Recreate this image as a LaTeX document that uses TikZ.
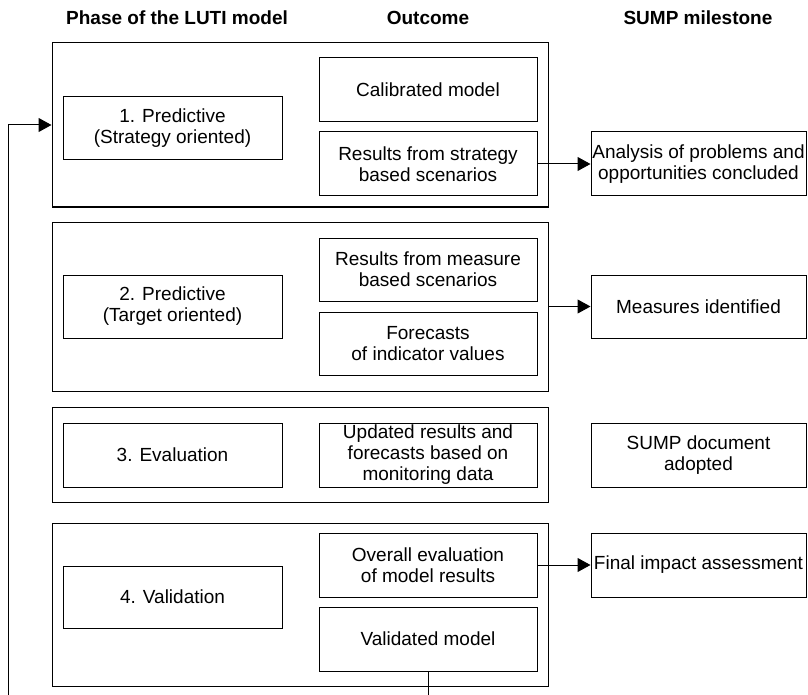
\documentclass[tikz,border=0pt]{standalone}
\usepackage{fontspec}
\setmainfont{Liberation Sans}
\usetikzlibrary{arrows.meta}
\tikzset{
  txt/.style={font=\fontsize{19}{21}\selectfont, align=center},
  hdr/.style={font=\bfseries\fontsize{19}{21}\selectfont},
  outerbox/.style={draw, line width=1pt, rectangle, inner sep=0pt, minimum width=496pt},
  bx/.style={draw, line width=1pt, rectangle, inner sep=0pt, txt},
  phasebox/.style={bx, minimum width=219pt},
  outbox/.style={bx, minimum width=218pt, minimum height=64pt},
  milebox/.style={bx, minimum width=215pt, minimum height=64pt},
  conn/.style={line width=1pt, -{Triangle[length=13pt,width=14pt]}},
}
\begin{document}
\begin{tikzpicture}[x=1pt,y=-1pt]
\clip (0,0) rectangle (808,695);
% headers
\node[hdr] (h1) at (177,18) {Phase of the LUTI model};
\node[hdr] (h2) at (428,18) {Outcome};
\node[hdr] (h3) at (698,18) {SUMP milestone};
% group 1
\node[outerbox, minimum height=164pt] (g1) at (300,125) {};
\node[phasebox, minimum height=63pt] (p1) at (172.5,128.5) {1. Predictive\\(Strategy oriented)};
\node[outbox] (o1a) at (428,90) {Calibrated model};
\node[outbox] (o1b) at (428,164) {Results from strategy\\based scenarios};
\node[milebox] (m1) at (698.5,164) {Analysis of problems and\\opportunities concluded};
% group 2
\node[outerbox, minimum height=169pt] (g2) at (300,306.5) {};
\node[phasebox, minimum height=63pt] (p2) at (172.5,306.5) {2. Predictive\\(Target oriented)};
\node[outbox, minimum height=63pt] (o2a) at (428,269.5) {Results from measure\\based scenarios};
\node[outbox, minimum height=63pt] (o2b) at (428,343.5) {Forecasts\\of indicator values};
\node[milebox, minimum height=63pt] (m2) at (698.5,306.5) {Measures identified};
% group 3
\node[outerbox, minimum height=95pt] (g3) at (300,454.5) {};
\node[phasebox, minimum height=64pt] (p3) at (172.5,455) {3. Evaluation};
\node[outbox] (o3) at (428,455) {Updated results and\\forecasts based on\\monitoring data};
\node[milebox] (m3) at (698.5,455) {SUMP document\\adopted};
% group 4
\node[outerbox, minimum height=163pt] (g4) at (300,604.5) {};
\node[phasebox, minimum height=62pt] (p4) at (172.5,597) {4. Validation};
\node[outbox] (o4a) at (428,565) {Overall evaluation\\of model results};
\node[outbox] (o4b) at (428,639) {Validated model};
\node[milebox] (m4) at (698.5,565) {Final impact assessment};
% connectors
\draw[conn] (o1b.east) -- (m1.west);
\draw[conn] (g2.east) -- (m2.west);
\draw[conn] (o4a.east) -- (m4.west);
\coordinate (fb1) at (428,705);
\coordinate (fb2) at (8,705);
\coordinate (fb3) at (8,125);
\draw[conn] (o4b.south) -- (fb1) -- (fb2) -- (fb3) -- (g1.west);
\end{tikzpicture}
\end{document}
